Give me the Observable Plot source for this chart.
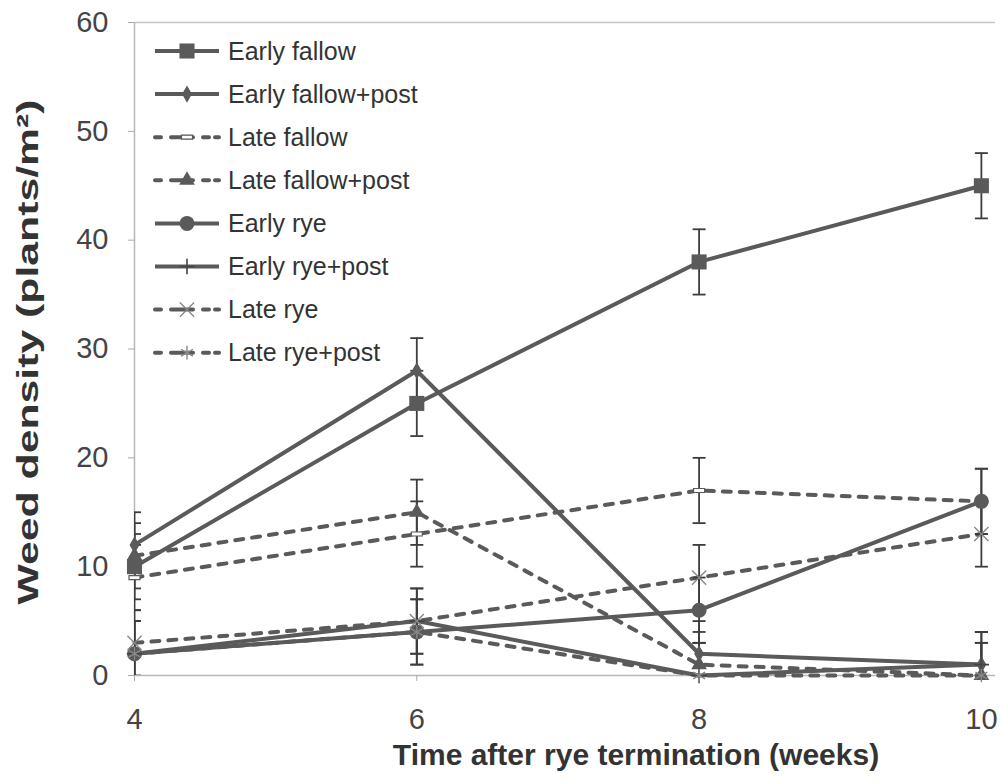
<!DOCTYPE html>
<html><head><meta charset="utf-8">
<script src="https://cdn.jsdelivr.net/npm/d3@7"></script>
<script src="https://cdn.jsdelivr.net/npm/@observablehq/plot@0.6"></script>
<style>
body{margin:0;background:#fff;}
#wrap{position:relative;width:1000px;height:783px;}
#wrap svg{position:absolute;left:0;top:0;}
</style></head><body><div id="wrap"></div>
<script>
// ---------- data ----------
const weeks = [4, 6, 8, 10];
const xTicks = [4, 6, 8, 10];
const yTicks = [0, 10, 20, 30, 40, 50, 60];
const seriesNames = ["Early fallow", "Early fallow+post", "Late fallow", "Late fallow+post",
                     "Early rye", "Early rye+post", "Late rye", "Late rye+post"];
const earlyFallow     = [10, 25, 38, 45];
const earlyFallowPost = [12, 28, 2, 1];
const lateFallow      = [9, 13, 17, 16];
const lateFallowPost  = [11, 15, 1, 0];
const earlyRye        = [2, 4, 6, 16];
const earlyRyePost    = [2, 5, 0, 1];
const lateRye         = [3, 5, 9, 13];
const lateRyePost     = [2, 4, 0, 0];
const errEarlyFallow     = [3, 3, 3, 3];
const errEarlyFallowPost = [3, 3, 3, 3];
const errLateFallow      = [3, 3, 3, 3];
const errLateFallowPost  = [3, 3, 3, 3];
const errEarlyRye        = [3, 3, 3, 3];
const errEarlyRyePost    = [3, 3, 3, 3];
const errLateRye         = [3, 3, 3, 3];
const errLateRyePost     = [3, 3, 3, 3];
const xTitle = "Time after rye termination (weeks)";
const yTitle = "Weed density (plants/m²)";

const seriesValues = [earlyFallow, earlyFallowPost, lateFallow, lateFallowPost, earlyRye, earlyRyePost, lateRye, lateRyePost];
const seriesErrors = [errEarlyFallow, errEarlyFallowPost, errLateFallow, errLateFallowPost, errEarlyRye, errEarlyRyePost, errLateRye, errLateRyePost];

// ---------- styles ----------
const dashed = [false, false, true, true, false, false, true, true];
const LINE = "#5a5a5a", ERR = "#3d3d3d";
const dashSym = {draw(ctx) { ctx.moveTo(-5.5, -2); ctx.lineTo(5.5, -2); ctx.lineTo(5.5, 2); ctx.lineTo(-5.5, 2); ctx.closePath(); }};
const capSym = {draw(ctx) { ctx.moveTo(-6.5, 0); ctx.lineTo(6.5, 0); }};
const markerStyle = [
  {symbol: "square", r: 8.5, fill: LINE, stroke: "none"},
  {symbol: "diamond", r: 5.2, fill: LINE, stroke: "none"},
  {symbol: dashSym, r: 4, fill: "#fff", stroke: LINE, strokeWidth: 1.2},
  {symbol: "triangle", r: 5.8, fill: LINE, stroke: "none"},
  {symbol: "circle", r: 7.5, fill: LINE, stroke: "none"},
  {symbol: "plus", r: 5, fill: "none", stroke: "#444", strokeWidth: 1.6},
  {symbol: "times", r: 6.5, fill: "none", stroke: "#888", strokeWidth: 1.4},
  {symbol: "asterisk", r: 6.5, fill: "none", stroke: "#888", strokeWidth: 1.4}
];

// ---------- tidy table ----------
const rows = [];
seriesNames.forEach((name, s) => weeks.forEach((w, i) => rows.push({
  series: name, s, week: w, value: seriesValues[s][i], err: seriesErrors[s][i]
})));
const caps = rows.flatMap(d => [{...d, y: d.value - d.err}, {...d, y: d.value + d.err}]);

const marks = [
  Plot.ruleY([60], {stroke: "#c4c4c4", strokeWidth: 1.3}),
  Plot.ruleY([0], {stroke: "#b8b8b8", strokeWidth: 1.5}),
  Plot.ruleX([4], {stroke: "#b8b8b8", strokeWidth: 1.5}),
  Plot.axisY({ticks: yTicks, tickFormat: d3.format("d"), tickSize: 6, tickPadding: 20, fontSize: 29, label: null, stroke: "#aaa"}),
  Plot.axisX({ticks: xTicks, tickFormat: d3.format("d"), tickSize: 6, tickPadding: 27, fontSize: 29, label: null, stroke: "#aaa"}),
  Plot.line(rows.filter(d => !dashed[d.s]), {x: "week", y: "value", z: "series", stroke: LINE, strokeWidth: 4}),
  Plot.line(rows.filter(d => dashed[d.s]), {x: "week", y: "value", z: "series", stroke: LINE, strokeWidth: 4,
    strokeDasharray: "8,9", strokeLinecap: "round"}),
  Plot.ruleX(rows, {x: "week", y1: d => d.value - d.err, y2: d => d.value + d.err, stroke: ERR, strokeWidth: 1.8, clip: true}),
  Plot.dot(caps, {x: "week", y: "y", symbol: capSym, stroke: ERR, strokeWidth: 1.8, clip: true})
];
seriesNames.forEach((name, s) => {
  const m = markerStyle[s];
  marks.push(Plot.dot(rows.filter(d => d.s === s), {x: "week", y: "value", symbol: m.symbol, r: m.r,
    fill: m.fill, stroke: m.stroke, strokeWidth: m.strokeWidth || 1}));
});
marks.push(Plot.text([xTitle], {frameAnchor: "bottom", dx: 71, dy: 80, lineAnchor: "middle",
  fontSize: 30, fontWeight: "bold", fill: "#333"}));
marks.push(Plot.text([yTitle], {frameAnchor: "left", rotate: -90, dx: -106, dy: 3, lineAnchor: "middle",
  textAnchor: "middle", fontSize: 30, fontWeight: "bold", fill: "#333"}));

const chart = Plot.plot({
  width: 1000, height: 783,
  marginLeft: 134, marginRight: 5, marginTop: 22, marginBottom: 108,
  x: {domain: [4, 10.1]},
  y: {domain: [0, 60]},
  style: {fontFamily: "'Liberation Sans', Arial, sans-serif", color: "#444", background: "#fff"},
  marks
});
document.getElementById("wrap").appendChild(chart);
// stretch the y title to the reference's length
d3.select(chart).selectAll("text").filter(function() { return this.textContent === yTitle; })
  .attr("textLength", 505).attr("lengthAdjust", "spacingAndGlyphs");

// ---------- legend (overlay) ----------
const leg = d3.select("#wrap").append("svg").attr("width", 1000).attr("height", 783)
  .style("font-family", "'Liberation Sans', Arial, sans-serif");
const symMap = {square: d3.symbolSquare, diamond: d3.symbolDiamond, triangle: d3.symbolTriangle,
  circle: d3.symbolCircle, plus: d3.symbolPlus, times: d3.symbolTimes, asterisk: d3.symbolAsterisk};
seriesNames.forEach((name, s) => {
  const y = 51 + s * 43.1;
  const g = leg.append("g").attr("transform", `translate(0,${y})`);
  g.append("line").attr("x1", 155).attr("x2", 219).attr("y1", 0).attr("y2", 0)
    .attr("stroke", LINE).attr("stroke-width", 4)
    .attr("stroke-linecap", dashed[s] ? "round" : "butt")
    .attr("stroke-dasharray", dashed[s] ? "6,10,22,10,6" : null);
  const m = markerStyle[s];
  const st = typeof m.symbol === "string" ? symMap[m.symbol] : m.symbol;
  g.append("path").attr("transform", "translate(187,0)")
    .attr("d", d3.symbol(st, Math.PI * m.r * m.r)())
    .attr("fill", m.fill).attr("stroke", m.stroke).attr("stroke-width", m.strokeWidth || 1);
  g.append("text").attr("x", 228).attr("y", 0).attr("dy", "0.35em")
    .attr("font-size", 25).attr("fill", "#333").text(name);
});
</script></body></html>
